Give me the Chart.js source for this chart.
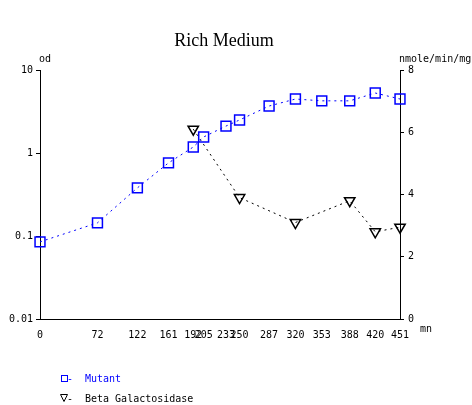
<!DOCTYPE html>
<html>
<head>
<meta charset="utf-8">
<script src="https://cdn.jsdelivr.net/npm/chart.js@4.4.0/dist/chart.umd.min.js"></script>
<style>
  html, body { margin: 0; padding: 0; background: #fff; }
  #wrap { width: 472px; height: 405px; position: relative; }
</style>
</head>
<body>
<div id="wrap"><canvas id="chart" width="472" height="405"></canvas></div>
<script>
// ---- data ----
const xTicks = [0, 72, 122, 161, 192, 205, 233, 250, 287, 320, 353, 388, 420, 451];
const mutantX = [0, 72, 122, 161, 192, 205, 233, 250, 287, 320, 353, 388, 420, 451];
const mutantOD = [0.085, 0.144, 0.38, 0.76, 1.18, 1.56, 2.11, 2.5, 3.68, 4.47, 4.25, 4.25, 5.28, 4.47];
const betaX = [192, 250, 320, 388, 420, 451];
const betaGal = [6.1, 3.9, 3.1, 3.8, 2.8, 2.95];
const odTicks = [0.01, 0.1, 1, 10];
const odLabels = ["0.01", "0.1", "1", "10"];
const rateTicks = [0, 2, 4, 6, 8];

const MONO = "'DejaVu Sans Mono', monospace";
const BLUE = "#0000ff";

// -----------------------------
// Text / legend drawn on top
// -----------------------------
const decorations = {
    id: "decorations",
    afterDraw(chart) {
        const ctx = chart.ctx;
        ctx.save();
        ctx.fillStyle = "#000";
        ctx.font = "18px 'Liberation Serif', serif";
        ctx.textAlign = "center";
        ctx.textBaseline = "middle";
        ctx.fillText("Rich Medium", 224, 41);

        ctx.font = "10px " + MONO;
        ctx.textAlign = "left";
        ctx.fillText("od", 39, 59);
        ctx.fillText("nmole/min/mg", 399, 59);
        ctx.fillText("mn", 420, 329);

        // legend
        ctx.lineWidth = 1;
        ctx.strokeStyle = BLUE;
        ctx.fillStyle = BLUE;
        ctx.strokeRect(61.5, 375.5, 6, 6);
        ctx.fillText("-", 67, 379);
        ctx.fillText("Mutant", 85, 379);

        ctx.strokeStyle = "#000";
        ctx.fillStyle = "#000";
        ctx.beginPath();
        ctx.moveTo(60.5, 394.5);
        ctx.lineTo(67.5, 394.5);
        ctx.lineTo(64, 401.5);
        ctx.closePath();
        ctx.stroke();
        ctx.fillText("-", 67, 399);
        ctx.fillText("Beta Galactosidase", 85, 399);
        ctx.restore();
    }
};

const ctx = document.getElementById("chart").getContext("2d");
new Chart(ctx, {
    type: "line",
    data: {
        datasets: [
            {
                label: "Mutant",
                data: mutantX.map((x, i) => ({ x: x, y: mutantOD[i] })),
                yAxisID: "yOD",
                clip: false,
                borderColor: BLUE,
                borderWidth: 1,
                borderDash: [2, 4],
                pointStyle: "rect",
                pointRadius: 7,
                pointBorderWidth: 1.5,
                pointBorderColor: BLUE,
                pointBackgroundColor: "rgba(0,0,0,0)",
                tension: 0
            },
            {
                label: "Beta Galactosidase",
                data: betaX.map((x, i) => ({ x: x, y: betaGal[i] })),
                yAxisID: "yRate",
                clip: false,
                borderColor: "#000",
                borderWidth: 1,
                borderDash: [2, 4],
                pointStyle: "triangle",
                pointRotation: 180,
                pointRadius: 6,
                pointBorderWidth: 1.5,
                pointBorderColor: "#000",
                pointBackgroundColor: "rgba(0,0,0,0)",
                tension: 0
            }
        ]
    },
    options: {
        responsive: false,
        animation: false,
        layout: { padding: { top: 70, left: 0, right: 0, bottom: 0 } },
        plugins: {
            legend: { display: false },
            title: { display: false },
            tooltip: { enabled: false }
        },
        scales: {
            x: {
                type: "linear",
                min: 0,
                max: 451,
                afterBuildTicks: s => { s.ticks = xTicks.map(v => ({ value: v })); },
                afterFit: s => { s.height = 86; },
                grid: { display: false },
                border: { display: true, color: "#000", width: 1 },
                ticks: {
                    autoSkip: false,
                    maxRotation: 0,
                    color: "#000",
                    padding: 2,
                    font: { family: MONO, size: 10 },
                    callback: v => String(v)
                }
            },
            yOD: {
                type: "logarithmic",
                position: "left",
                min: 0.01,
                max: 10,
                afterBuildTicks: s => { s.ticks = odTicks.map(v => ({ value: v })); },
                afterFit: s => { s.width = 40; },
                grid: { display: true, drawOnChartArea: false, tickLength: 4, color: "#000" },
                border: { display: true, color: "#000", width: 1 },
                ticks: {
                    color: "#000",
                    padding: 3,
                    font: { family: MONO, size: 10 },
                    callback: (v, i) => odLabels[i]
                }
            },
            yRate: {
                type: "linear",
                position: "right",
                min: 0,
                max: 8,
                afterBuildTicks: s => { s.ticks = rateTicks.map(v => ({ value: v })); },
                afterFit: s => { s.width = 72; },
                grid: { display: true, drawOnChartArea: false, tickLength: 4, color: "#000" },
                border: { display: true, color: "#000", width: 1 },
                ticks: {
                    color: "#000",
                    padding: 4,
                    font: { family: MONO, size: 10 },
                    callback: v => String(v)
                }
            }
        }
    },
    plugins: [decorations]
});
</script>
</body>
</html>
